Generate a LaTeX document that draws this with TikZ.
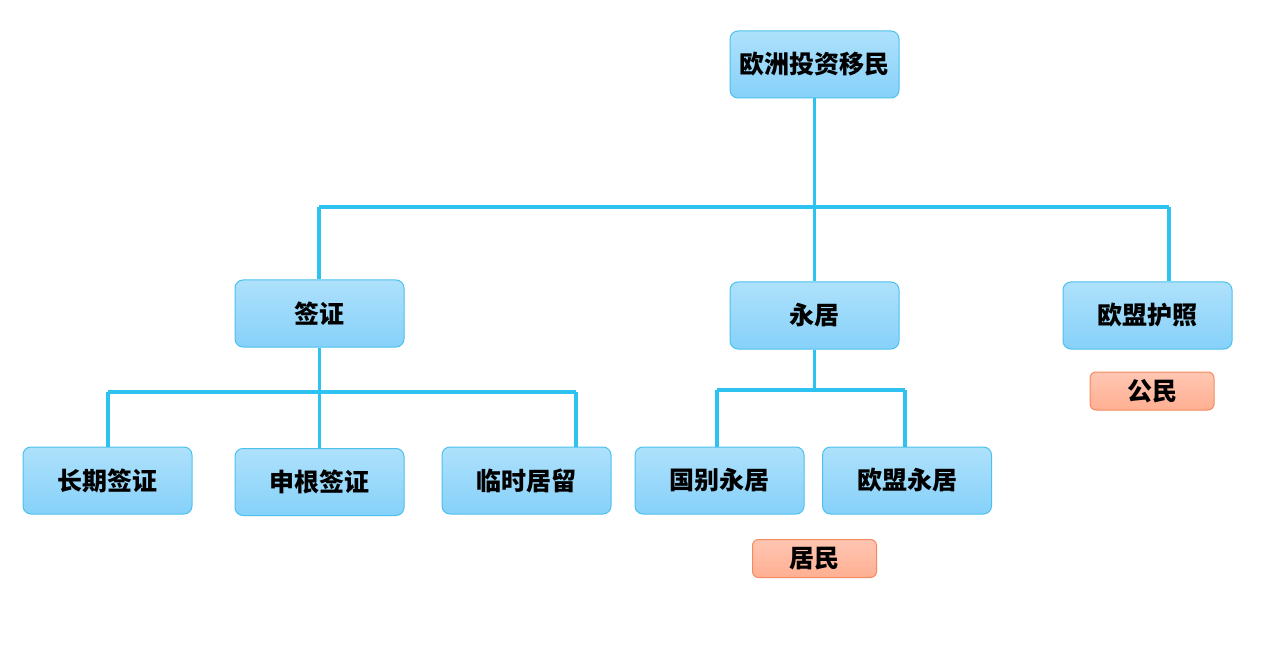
\documentclass[tikz,border=0pt]{standalone}
\usepackage{fontspec}
\usepackage{xcolor}
\newfontfamily\cjk{Noto Sans CJK SC}
\usetikzlibrary{positioning,calc}
\definecolor{linkblue}{HTML}{2EC2F0}
\definecolor{boxtop}{HTML}{AEE1FB}
\definecolor{boxbot}{HTML}{86D1FA}
\definecolor{boxline}{HTML}{4CC1EE}
\definecolor{tagtop}{HTML}{FFC6B2}
\definecolor{tagbot}{HTML}{FFAF92}
\definecolor{tagline}{HTML}{F48A5E}

\begin{document}
\begin{tikzpicture}[
    x=1pt, y=-1pt,
    box/.style={rectangle, rounded corners=8pt, draw=boxline, line width=1pt,
                top color=boxtop, bottom color=boxbot,
                minimum width=169pt, minimum height=67pt, inner sep=0pt,
                font=\cjk\bfseries\fontsize{25}{28}\selectfont},
    tag/.style={rectangle, rounded corners=6pt, draw=tagline, line width=1pt,
                top color=tagtop, bottom color=tagbot,
                minimum width=124pt, minimum height=38pt, inner sep=0pt,
                font=\cjk\bfseries\fontsize{25}{28}\selectfont},
    link/.style={draw=linkblue, line width=3.2pt},
]
    \useasboundingbox[fill=white] (0,0) rectangle (1271,652);

    % Top level
    \node[box] (root) at (814.5,64.5) {欧洲投资移民};

    % Second level
    \node[box] (visa)  at (319.5,313.5) {签证};
    \node[box] (perm)  at (814.5,315.5) {永居};
    \node[box] (pass)  at (1147.5,315.5) {欧盟护照};
    \node[tag] (citizen) at (1152,391) {公民};

    % Third level
    \node[box] (longv)  at (107.5,480.5) {长期签证};
    \node[box] (schen)  at (319.5,482)   {申根签证};
    \node[box] (tempr)  at (526.5,480.5) {临时居留};
    \node[box] (natp)   at (719.5,480.5) {国别永居};
    \node[box] (eup)    at (907,480.5)   {欧盟永居};
    \node[tag] (resid)  at (814.5,558.5) {居民};

    % Bus coordinates
    \coordinate (busL) at (319,207);
    \coordinate (busR) at (1169,207);
    \coordinate (visaL) at (108,392);
    \coordinate (visaR) at (576,392);
    \coordinate (permL) at (717,390);
    \coordinate (permR) at (905,390);

    % Connectors, top
    \draw[link] (root.south) -- (perm.north);
    \draw[link] (busL) -- (busR);
    \draw[link] (busL) -- (busL |- visa.north);
    \draw[link] (busR) -- (busR |- pass.north);

    % Connectors, visa
    \draw[link] (visa.south) -- (schen.north);
    \draw[link] (visaL) -- (visaR);
    \draw[link] (visaL) -- (visaL |- longv.north);
    \draw[link] (visaR) -- (visaR |- tempr.north);

    % Connectors, permanent residence
    \draw[link] (perm.south) -- (perm.south |- permL);
    \draw[link] (permL) -- (permR);
    \draw[link] (permL) -- (permL |- natp.north);
    \draw[link] (permR) -- (permR |- eup.north);
\end{tikzpicture}
\end{document}
